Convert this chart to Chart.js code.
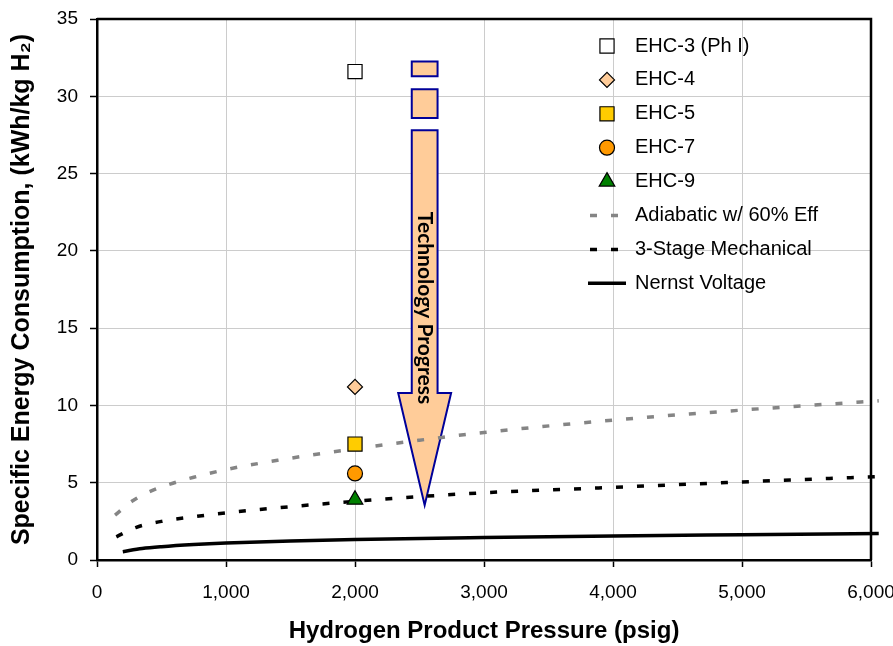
<!DOCTYPE html>
<html>
<head>
<meta charset="utf-8">
<script src="https://cdn.jsdelivr.net/npm/chart.js@4.4.1/dist/chart.umd.min.js"></script>
<style>
  html, body { margin: 0; padding: 0; background: #fff; }
</style>
</head>
<body>
<canvas id="chart" width="893" height="646"></canvas>
<script>
// Values (psig, kWh/kg H2)
const ehcLabels = ['EHC-3 (Ph I)', 'EHC-4', 'EHC-5', 'EHC-7', 'EHC-9'];
const ehcPressure = [2000, 2000, 2000, 2000, 2000];
const ehcEnergy = [31.6, 11.2, 7.5, 5.6, 3.9];

const adiabaticPressure = [140, 280, 430, 600, 750, 1000, 1400, 2000, 2500, 3000, 4000, 5000, 6060];
const adiabaticEnergy = [2.9, 3.85, 4.5, 5.0, 5.35, 5.85, 6.45, 7.2, 7.75, 8.25, 9.05, 9.7, 10.3];

const mechPressure = [150, 300, 500, 750, 1000, 1500, 2000, 2500, 3000, 4000, 5000, 6060];
const mechEnergy = [1.5, 2.1, 2.5, 2.8, 3.05, 3.45, 3.8, 4.1, 4.35, 4.7, 5.05, 5.4];

const nernstPressure = [200, 350, 500, 750, 1000, 1500, 2000, 3000, 4000, 5000, 6060];
const nernstEnergy = [0.54, 0.74, 0.86, 1.0, 1.1, 1.23, 1.32, 1.45, 1.56, 1.64, 1.72];

const xTicks = [0, 1000, 2000, 3000, 4000, 5000, 6000];
const yTicks = [0, 5, 10, 15, 20, 25, 30, 35];

const FONT = '"Liberation Sans", Arial, sans-serif';

const MARKERS = [
  { pointStyle: 'rect', radius: 10, fill: '#ffffff' },
  { pointStyle: 'rectRot', radius: 7.5, fill: '#ffcc99' },
  { pointStyle: 'rect', radius: 10, fill: '#ffcc00' },
  { pointStyle: 'circle', radius: 7.5, fill: '#ff9900' },
  { pointStyle: 'triangle', radius: 9, fill: '#008000' },
];

const LINES = [
  { label: 'Adiabatic w/ 60% Eff', xs: adiabaticPressure, ys: adiabaticEnergy, color: '#858585', dash: [7, 14] },
  { label: '3-Stage Mechanical', xs: mechPressure, ys: mechEnergy, color: '#000000', dash: [7, 14] },
  { label: 'Nernst Voltage', xs: nernstPressure, ys: nernstEnergy, color: '#000000', dash: [] },
];

// "Technology Progress" arrow, in data units
const ARROW = {
  x: 2540, shaftHalf: 100, headHalf: 205,
  pieces: [[32.25, 31.3], [30.45, 28.6]],
  shaftTop: 27.8, headTop: 10.8, tip: 3.55,
};

const toPoints = (xs, ys) => xs.map((x, i) => ({ x, y: ys[i] }));

const markerSets = ehcLabels.map((label, i) => ({
  label,
  data: [{ x: ehcPressure[i], y: ehcEnergy[i] }],
  showLine: false,
  pointStyle: MARKERS[i].pointStyle,
  pointRadius: MARKERS[i].radius,
  pointHoverRadius: MARKERS[i].radius,
  pointBackgroundColor: MARKERS[i].fill,
  pointBorderColor: '#000',
  pointBorderWidth: 1.2,
}));

const lineSets = LINES.map((l) => ({
  label: l.label,
  data: toPoints(l.xs, l.ys),
  showLine: true,
  pointRadius: 0,
  borderColor: l.color,
  borderWidth: 3.5,
  borderDash: l.dash,
  cubicInterpolationMode: 'monotone',
  clip: { left: 0, top: 0, right: 10, bottom: 0 },
}));

const arrowPlugin = {
  id: 'arrowAndFrame',
  beforeDatasetsDraw(chart) {
    const { ctx, chartArea, scales: { x, y } } = chart;
    const xl = x.getPixelForValue(ARROW.x - ARROW.shaftHalf);
    const xr = x.getPixelForValue(ARROW.x + ARROW.shaftHalf);
    const hl = x.getPixelForValue(ARROW.x - ARROW.headHalf);
    const hr = x.getPixelForValue(ARROW.x + ARROW.headHalf);
    const xc = x.getPixelForValue(ARROW.x);
    ctx.save();
    ctx.fillStyle = '#ffcc99';
    ctx.strokeStyle = '#000099';
    ctx.lineWidth = 2;
    ARROW.pieces.forEach(([top, bottom]) => {
      const yt = y.getPixelForValue(top);
      const yb = y.getPixelForValue(bottom);
      ctx.beginPath();
      ctx.rect(xl, yt, xr - xl, yb - yt);
      ctx.fill();
      ctx.stroke();
    });
    const ys = y.getPixelForValue(ARROW.shaftTop);
    const yh = y.getPixelForValue(ARROW.headTop);
    const yt = y.getPixelForValue(ARROW.tip);
    ctx.beginPath();
    ctx.moveTo(xl, ys);
    ctx.lineTo(xr, ys);
    ctx.lineTo(xr, yh);
    ctx.lineTo(hr, yh);
    ctx.lineTo(xc, yt);
    ctx.lineTo(hl, yh);
    ctx.lineTo(xl, yh);
    ctx.closePath();
    ctx.fill();
    ctx.stroke();

    ctx.translate(xc, 308);
    ctx.rotate(Math.PI / 2);
    ctx.fillStyle = '#000';
    ctx.font = 'bold 21px Lato, "Open Sans", sans-serif';
    ctx.textAlign = 'center';
    ctx.textBaseline = 'middle';
    ctx.fillText('Technology Progress', 0, 0);
    ctx.restore();

    // top and right frame
    ctx.save();
    ctx.strokeStyle = '#000';
    ctx.lineWidth = 2.5;
    ctx.beginPath();
    ctx.moveTo(chartArea.left, chartArea.top);
    ctx.lineTo(chartArea.right, chartArea.top);
    ctx.lineTo(chartArea.right, chartArea.bottom);
    ctx.stroke();
    ctx.restore();
  },
};

const legendPlugin = {
  id: 'insideLegend',
  afterDraw(chart) {
    const { ctx, chartArea } = chart;
    const mx = chartArea.left + 510;
    const tx = chartArea.left + 538;
    const rowY = (i) => chartArea.top + 27 + i * 33.9;
    const drawPoint = Chart.helpers && Chart.helpers.drawPoint;
    ctx.save();
    ctx.font = `20px ${FONT}`;
    ctx.textBaseline = 'middle';
    ctx.textAlign = 'left';
    ehcLabels.forEach((label, i) => {
      const m = MARKERS[i];
      ctx.fillStyle = m.fill;
      ctx.strokeStyle = '#000';
      ctx.lineWidth = 1.2;
      if (drawPoint) {
        drawPoint(ctx, { pointStyle: m.pointStyle, radius: m.radius, rotation: 0, borderWidth: 1.2 }, mx, rowY(i));
      }
      ctx.fillStyle = '#000';
      ctx.fillText(label, tx, rowY(i));
    });
    LINES.forEach((l, j) => {
      const yy = rowY(ehcLabels.length + j);
      ctx.strokeStyle = l.color;
      ctx.lineWidth = 3.5;
      ctx.setLineDash(l.dash);
      ctx.beginPath();
      if (l.dash.length) {
        ctx.moveTo(mx - 17, yy);
        ctx.lineTo(mx + 13, yy);
      } else {
        ctx.moveTo(mx - 19, yy);
        ctx.lineTo(mx + 19, yy);
      }
      ctx.stroke();
      ctx.setLineDash([]);
      ctx.fillStyle = '#000';
      ctx.fillText(l.label, tx, yy);
    });
    ctx.restore();
  },
};

new Chart(document.getElementById('chart'), {
  type: 'scatter',
  data: { datasets: [...markerSets, ...lineSets] },
  plugins: [arrowPlugin, legendPlugin],
  options: {
    responsive: false,
    animation: false,
    devicePixelRatio: 1,
    layout: { padding: 0 },
    plugins: {
      legend: { display: false },
      tooltip: { enabled: false },
    },
    scales: {
      x: {
        type: 'linear',
        min: 0,
        max: 6000,
        afterBuildTicks: (scale) => { scale.ticks = xTicks.map((value) => ({ value })); },
        afterFit: (scale) => { scale.height = 86; scale.paddingRight = 22; scale.paddingLeft = 0; },
        ticks: {
          color: '#000',
          font: { family: FONT, size: 19 },
          padding: 14,
          maxRotation: 0,
          callback: (v) => v.toLocaleString('en-US'),
        },
        grid: { color: '#cccccc', lineWidth: 1, tickLength: 7, tickColor: '#000', tickWidth: 1.5 },
        border: { color: '#000', width: 2.5 },
        title: {
          display: true,
          text: 'Hydrogen Product Pressure (psig)',
          color: '#000',
          font: { family: FONT, size: 24, weight: 'bold' },
          padding: { top: 0, bottom: 0 },
        },
      },
      y: {
        type: 'linear',
        min: 0,
        max: 35,
        afterBuildTicks: (scale) => { scale.ticks = yTicks.map((value) => ({ value })); },
        afterFit: (scale) => { scale.width = 97; scale.paddingTop = 19; scale.paddingBottom = 0; },
        ticks: {
          color: '#000',
          font: { family: FONT, size: 19 },
          padding: 12,
        },
        grid: { color: '#cccccc', lineWidth: 1, tickLength: 7, tickColor: '#000', tickWidth: 1.5 },
        border: { color: '#000', width: 2.5 },
        title: {
          display: true,
          text: 'Specific Energy Consumption, (kWh/kg H₂)',
          color: '#000',
          font: { family: FONT, size: 25, weight: 'bold' },
          padding: { top: 7, bottom: 0 },
        },
      },
    },
  },
});
</script>
</body>
</html>
